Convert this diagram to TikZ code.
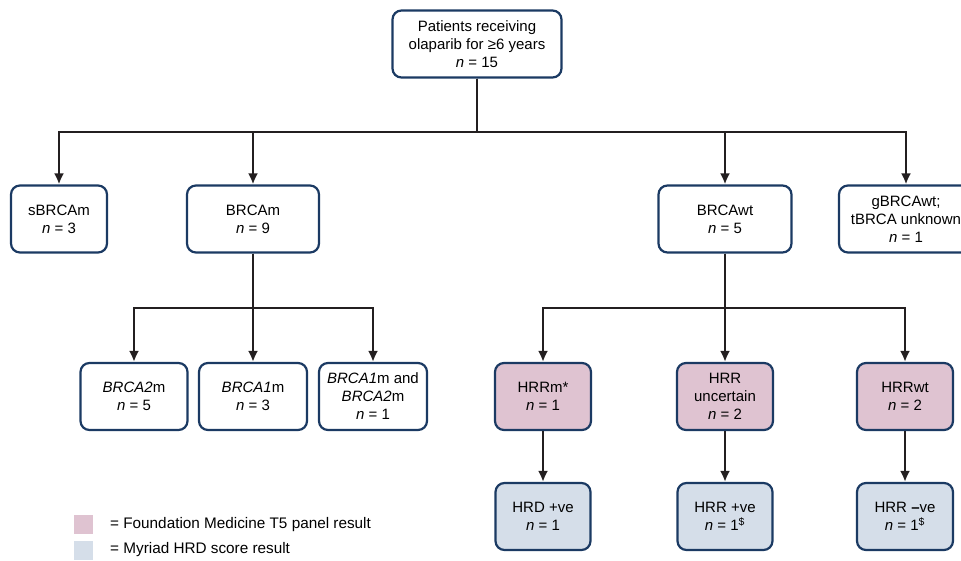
\documentclass[tikz,border=0pt]{standalone}
\usepackage{fontspec}
\setmainfont{Liberation Sans}
\usetikzlibrary{arrows.meta}

\definecolor{navyline}{HTML}{1B3A63}
\definecolor{fmipink}{HTML}{DFC3D1}
\definecolor{myriadblue}{HTML}{D5DEE9}
\definecolor{darkline}{HTML}{231F20}

\tikzset{
    box/.style={draw=navyline, line width=2.2pt, rounded corners=9pt, fill=white,
        align=center, minimum height=67pt, inner sep=2pt,
        font=\fontsize{15}{18}\selectfont},
    pinkbox/.style={box, fill=fmipink},
    bluebox/.style={box, fill=myriadblue},
    arr/.style={draw=darkline, line width=2.2pt, -{Latex[length=11pt,width=10pt]}},
    swatch/.style={minimum size=19pt, inner sep=0pt},
    keytext/.style={anchor=west, inner sep=0pt, font=\fontsize{15.3}{18}\selectfont},
}

\begin{document}
\begin{tikzpicture}[x=1pt, y=-1pt]

    \useasboundingbox (0,0) rectangle (961,560);

    % top
    \node[box, minimum width=169pt] (patients) at (477,44) {Patients receiving\\olaparib for ≥6 years\\\textit{n} = 15};
    \coordinate (split) at (477,132);

    % row 2
    \node[box, minimum width=96pt] (sbrcam) at (59,219) {sBRCAm\\\textit{n} = 3};
    \node[box, minimum width=132pt] (brcam) at (253,219) {BRCAm\\\textit{n} = 9};
    \node[box, minimum width=133pt] (brcawt) at (725,219) {BRCAwt\\\textit{n} = 5};
    \node[box, minimum width=134pt] (gbrcawt) at (906,219) {gBRCAwt;\\tBRCA unknown\\\textit{n} = 1};
    \draw[arr] (patients) -- (split) -| (sbrcam);
    \draw[arr] (patients) -- (split) -| (brcam);
    \draw[arr] (patients) -- (split) -| (brcawt);
    \draw[arr] (patients) -- (split) -| (gbrcawt);

    % BRCAm branch
    \coordinate (splitm) at (253,308);
    \node[box, minimum width=107pt] (brcatwo) at (134,396.5) {\textit{BRCA2}m\\\textit{n} = 5};
    \node[box, minimum width=108pt] (brcaone) at (253,396.5) {\textit{BRCA1}m\\\textit{n} = 3};
    \node[box, minimum width=108pt] (brcaboth) at (373,396.5) {\textit{BRCA1}m and\\\textit{BRCA2}m\\\textit{n} = 1};
    \draw[arr] (brcam) -- (splitm) -| (brcatwo);
    \draw[arr] (brcam) -- (splitm) -- (brcaone);
    \draw[arr] (brcam) -- (splitm) -| (brcaboth);

    % BRCAwt branch
    \coordinate (splitwt) at (725,308);
    \node[pinkbox, minimum width=96pt] (hrrm) at (543,396.5) {HRRm*\\\textit{n} = 1};
    \node[pinkbox, minimum width=96pt] (hrrunc) at (725,396.5) {HRR\\uncertain\\\textit{n} = 2};
    \node[pinkbox, minimum width=96pt] (hrrwt) at (905,396.5) {HRRwt\\\textit{n} = 2};
    \draw[arr] (brcawt) -- (splitwt) -| (hrrm);
    \draw[arr] (brcawt) -- (splitwt) -- (hrrunc);
    \draw[arr] (brcawt) -- (splitwt) -| (hrrwt);

    % row 4
    \node[bluebox, minimum width=95pt] (hrdpos) at (543,516.5) {HRD +ve\\\textit{n} = 1};
    \node[bluebox, minimum width=95pt] (hrrpos) at (725,516.5) {HRR +ve\\\textit{n} = 1\textsuperscript{\$}};
    \node[bluebox, minimum width=96pt] (hrrneg) at (905,516.5) {HRR \textbf{–}ve\\\textit{n} = 1\textsuperscript{\$}};
    \draw[arr] (hrrm) -- (hrdpos);
    \draw[arr] (hrrunc) -- (hrrpos);
    \draw[arr] (hrrwt) -- (hrrneg);

    % key
    \node[swatch, fill=fmipink] (fmikey) at (83.5,524.5) {};
    \node[keytext] (fmitext) at (110,525) {= Foundation Medicine T5 panel result};
    \node[swatch, fill=myriadblue] (myriadkey) at (83.5,550.5) {};
    \node[keytext] (myriadtext) at (110,550) {= Myriad HRD score result};

\end{tikzpicture}
\end{document}
